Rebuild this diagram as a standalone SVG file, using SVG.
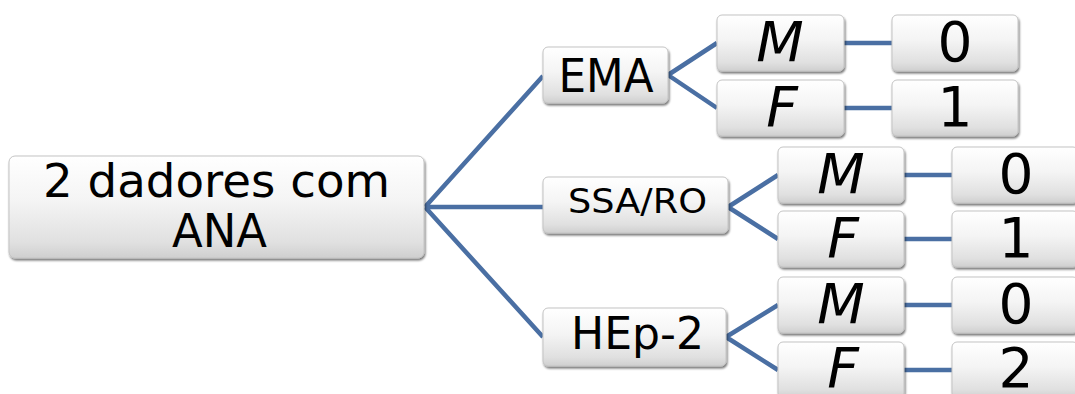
<svg xmlns="http://www.w3.org/2000/svg" width="1075" height="394" viewBox="0 0 1075 394">
  <defs>
    <linearGradient id="boxFill" x1="0" y1="0" x2="0" y2="1">
      <stop offset="0" stop-color="#ffffff"/>
      <stop offset="0.45" stop-color="#f4f4f4"/>
      <stop offset="0.85" stop-color="#e0e0e0"/>
      <stop offset="1" stop-color="#cfcfcf"/>
    </linearGradient>
    <filter id="shadow" x="-10%" y="-10%" width="120%" height="130%">
      <feGaussianBlur in="SourceAlpha" stdDeviation="1.2"/>
      <feOffset dx="1" dy="2" result="off"/>
      <feComponentTransfer><feFuncA type="linear" slope="0.55"/></feComponentTransfer>
      <feMerge><feMergeNode/><feMergeNode in="SourceGraphic"/></feMerge>
    </filter>
  </defs>
  <style>
    .box { fill: url(#boxFill); stroke: #c4c4c4; stroke-width: 1; filter: url(#shadow); }
    .lbl { font-family: "DejaVu Sans", "Liberation Sans", sans-serif; fill: #000; text-anchor: middle; }
    .it { font-style: italic; }
    .link { stroke: #4a6fa3; stroke-width: 4.5; fill: none; stroke-linecap: butt; }
  </style>

  <rect width="1075" height="394" fill="#ffffff"/>

  <!-- connectors -->
  <g id="connectors">
    <path class="link" d="M425 207 L543 76 M425 207 L543 207 M425 207 L543 337"/>
    <path class="link" d="M668 75 L717 43 M668 75 L717 108"/>
    <path class="link" d="M728 207 L778 175 M728 207 L778 239"/>
    <path class="link" d="M726 337 L778 305 M726 337 L778 370"/>
    <path class="link" d="M844 43 H892 M844 108 H892"/>
    <path class="link" d="M904 175 H952 M904 239 H952"/>
    <path class="link" d="M904 305 H952 M904 370 H952"/>
  </g>

  <!-- root -->
  <g id="root">
    <rect class="box" x="9" y="156" width="415" height="102" rx="6"/>
    <text class="lbl" x="216.5" y="197" font-size="47" textLength="347" lengthAdjust="spacingAndGlyphs">2 dadores com</text>
    <text class="lbl" x="219.5" y="247" font-size="47" textLength="95" lengthAdjust="spacingAndGlyphs">ANA</text>
  </g>

  <!-- EMA branch -->
  <g id="ema">
    <rect class="box" x="543" y="47" width="125" height="56" rx="5"/>
    <text class="lbl" x="606" y="92" font-size="47" textLength="95" lengthAdjust="spacingAndGlyphs">EMA</text>
  </g>
  <g id="ema-m">
    <rect class="box" x="717" y="15" width="127" height="56" rx="5"/>
    <text class="lbl it" x="780" y="61" font-size="55">M</text>
  </g>
  <g id="ema-f">
    <rect class="box" x="717" y="80" width="127" height="56" rx="5"/>
    <text class="lbl it" x="782" y="126" font-size="55">F</text>
  </g>
  <g id="ema-m-n">
    <rect class="box" x="892" y="15" width="126" height="56" rx="5"/>
    <text class="lbl" x="955" y="61" font-size="55">0</text>
  </g>
  <g id="ema-f-n">
    <rect class="box" x="892" y="80" width="126" height="56" rx="5"/>
    <text class="lbl" x="955" y="126" font-size="55">1</text>
  </g>

  <!-- SSA/RO branch -->
  <g id="ssa">
    <rect class="box" x="543" y="177" width="185" height="56" rx="5"/>
    <text class="lbl" x="637.5" y="213" font-size="34" textLength="139" lengthAdjust="spacingAndGlyphs">SSA/RO</text>
  </g>
  <g id="ssa-m">
    <rect class="box" x="778" y="147" width="126" height="56" rx="5"/>
    <text class="lbl it" x="841" y="193" font-size="55">M</text>
  </g>
  <g id="ssa-f">
    <rect class="box" x="778" y="211" width="126" height="56" rx="5"/>
    <text class="lbl it" x="843" y="257" font-size="55">F</text>
  </g>
  <g id="ssa-m-n">
    <rect class="box" x="952" y="147" width="126" height="56" rx="5"/>
    <text class="lbl" x="1016" y="193" font-size="55">0</text>
  </g>
  <g id="ssa-f-n">
    <rect class="box" x="952" y="211" width="126" height="56" rx="5"/>
    <text class="lbl" x="1016" y="257" font-size="55">1</text>
  </g>

  <!-- HEp-2 branch -->
  <g id="hep2">
    <rect class="box" x="543" y="308" width="183" height="58" rx="5"/>
    <text class="lbl" x="637.5" y="349" font-size="44" textLength="133" lengthAdjust="spacingAndGlyphs">HEp-2</text>
  </g>
  <g id="hep2-m">
    <rect class="box" x="778" y="277" width="126" height="56" rx="5"/>
    <text class="lbl it" x="841" y="323" font-size="55">M</text>
  </g>
  <g id="hep2-f">
    <rect class="box" x="778" y="342" width="126" height="56" rx="5"/>
    <text class="lbl it" x="843" y="387" font-size="55">F</text>
  </g>
  <g id="hep2-m-n">
    <rect class="box" x="952" y="277" width="126" height="56" rx="5"/>
    <text class="lbl" x="1016" y="323" font-size="55">0</text>
  </g>
  <g id="hep2-f-n">
    <rect class="box" x="952" y="342" width="126" height="56" rx="5"/>
    <text class="lbl" x="1016" y="387" font-size="55">2</text>
  </g>
</svg>
